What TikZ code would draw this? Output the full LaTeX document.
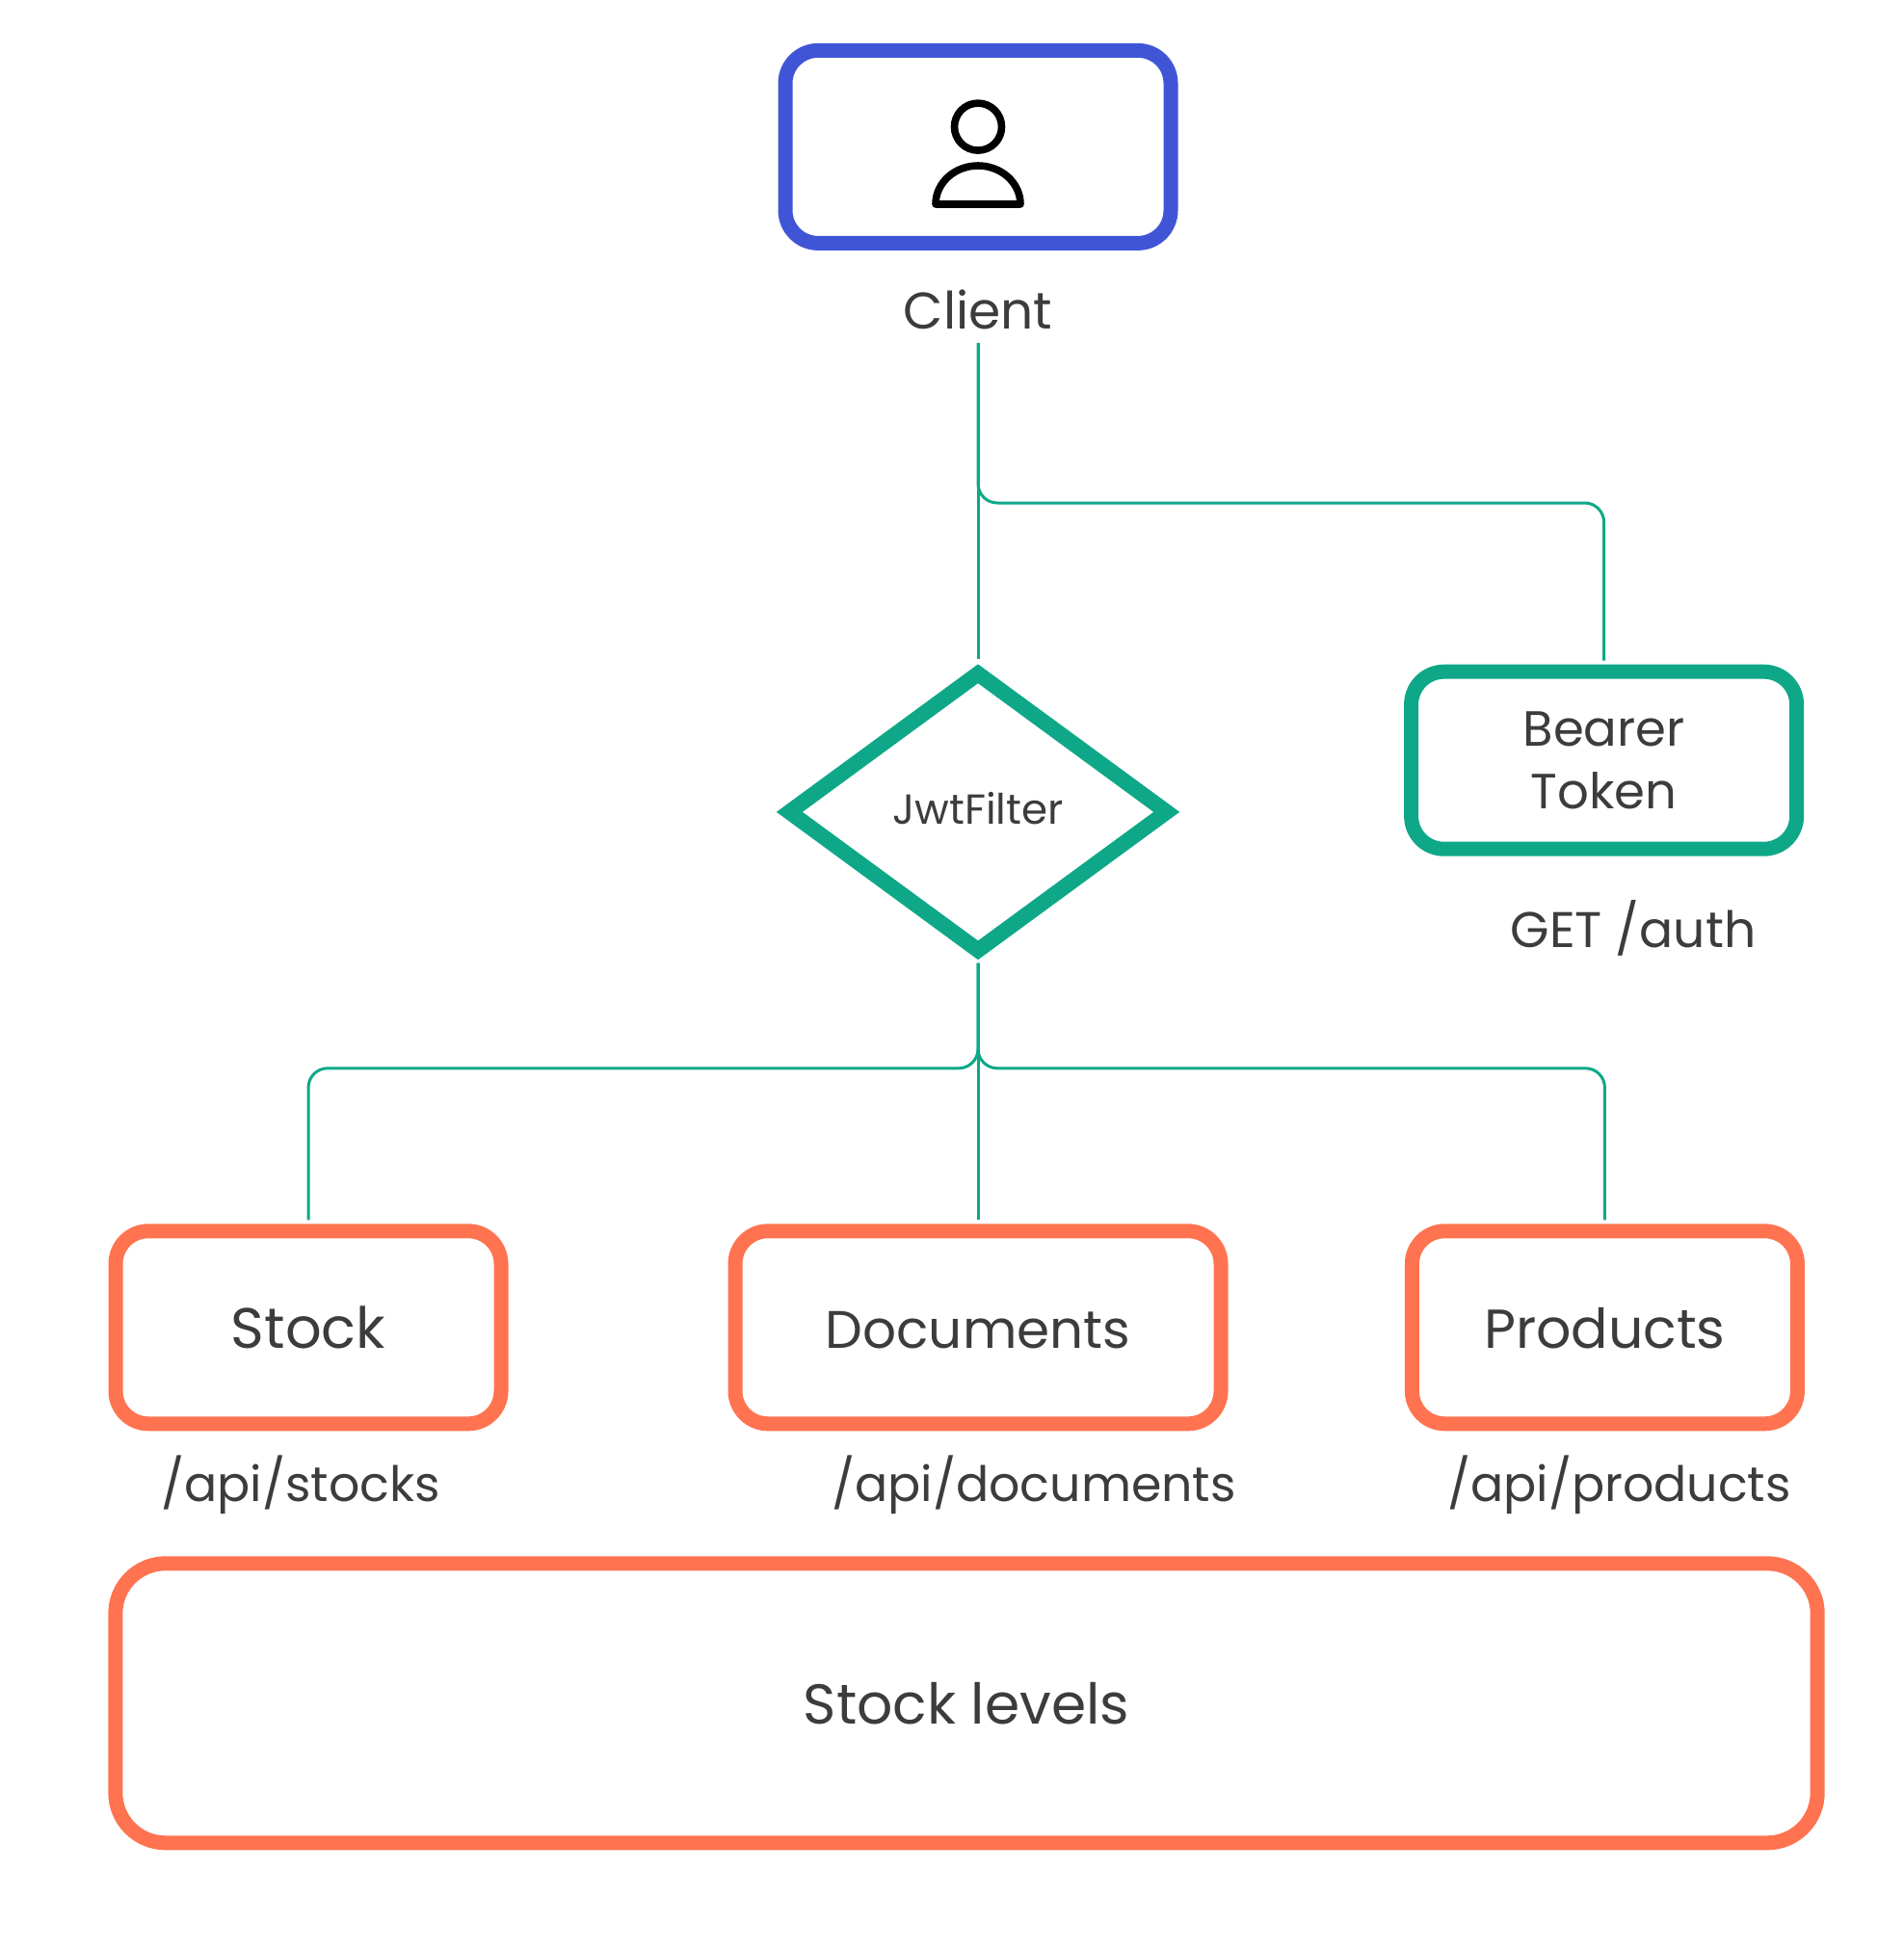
\documentclass[tikz,border=0pt]{standalone}
\usepackage{fontspec}
\setmainfont{Poppins}
\usetikzlibrary{positioning,shapes.geometric}
\definecolor{clientblue}{HTML}{4055D6}
\definecolor{jwtgreen}{HTML}{0EA888}
\definecolor{apiorange}{HTML}{FF7350}
\definecolor{labelgrey}{HTML}{3C3C3C}
\newcommand{\labelsize}[1]{\fontsize{#1}{46}\selectfont}
\begin{document}
\begin{tikzpicture}[on grid,
		box/.style={rectangle,draw=#1,line width=3.75mm,rounded corners=8.5mm,minimum width=100mm,minimum height=50mm,text=labelgrey,align=center,font=\labelsize{39}},
		oneline/.style={text height=10.8mm,text depth=0pt},
		caption/.style={text=labelgrey,inner sep=3.5mm,outer sep=0pt,text height=9.5mm,text depth=0pt,font=\labelsize{36}},
		link/.style={draw=jwtgreen,line width=0.75mm,shorten >=1mm},
		icon/.style={draw=black,line width=1.9mm,line join=round}]
		\useasboundingbox (0,0) rectangle (494mm,-505.75mm);
		\node[box=clientblue]  (client)  at (253.75mm,-38.1mm)  {};
		\node[caption,font=\labelsize{38}]  (clientname)  [below=42.6mm of client]  {Client};
		
		\node[diamond,draw=jwtgreen,line width=4mm,inner sep=0pt,minimum width=99.5mm,minimum height=73.4mm,text=labelgrey,text depth=2mm,font=\labelsize{31}]  (jwt)  [below=172.6mm of client]  {JwtFilter};
		\node[box=jwtgreen,minimum height=46mm,font=\labelsize{36.5}]  (bearer)  [right=162.4mm of jwt,yshift=13.4mm]  {Bearer\\Token};
		\node[caption,font=\labelsize{37}]  (authpath)  [below=43.8mm of bearer,xshift=7.6mm]  {GET /auth};
		
		\node[box=apiorange,oneline,minimum width=126mm]  (documents)  [below=133.75mm of jwt]  {Documents};
		\node[box=apiorange,oneline,font=\labelsize{42}]  (stock)  [left=173.75mm of documents]  {Stock};
		\node[box=apiorange,oneline,font=\labelsize{40.5}]  (products)  [right=162.6mm of documents]  {Products};
		\node[caption]  (stockpath)  [below=40.4mm of stock,xshift=-2mm]  {/api/stocks};
		\node[caption]  (documentspath)  [below=40.4mm of documents,xshift=14.5mm]  {/api/documents};
		\node[caption]  (productspath)  [below=40.4mm of products,xshift=3.75mm]  {/api/products};
		\node[box=apiorange,oneline,minimum width=441.6mm,minimum height=72.5mm,rounded corners=13mm,font=\labelsize{41.5}]  (levels)  [below=97.5mm of documents,xshift=-3mm]  {Stock levels};
		
		\coordinate[below=92.4mm of client]  (tokenfork);
		\coordinate[below=66.5mm of jwt]  (jwtfork);
		
		% person icon
		\node[circle,icon,minimum size=12.25mm,inner sep=0pt]  (head)  [above=5.2mm of client]  {};
		\draw[icon] ([shift={(-11mm,-14.9mm)}]client.center) coordinate (shoulder) arc[start angle=180,end angle=0,x radius=11mm,y radius=10mm] -- cycle;
		
		\draw[link] (clientname.south) -- (jwt.north);
		\draw[link,rounded corners=5mm] (clientname.south) -- (tokenfork) -| (bearer.north);
		\draw[link,shorten <=0.5mm] (jwt.south) -- (documents.north);
		\foreach \target in {stock,products}
			\draw[link,shorten <=0.5mm,rounded corners=5mm] (jwt.south) -- (jwtfork) -| (\target.north);
\end{tikzpicture}
\end{document}
